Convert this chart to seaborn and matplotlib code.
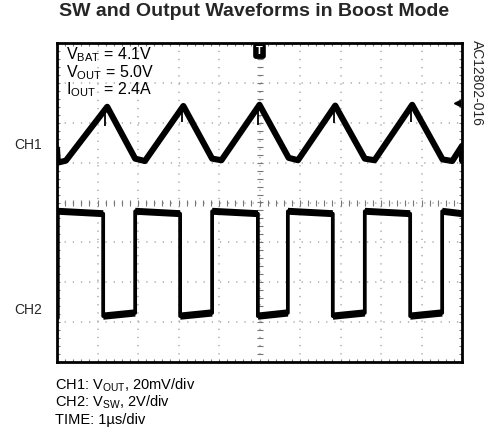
import numpy as np
import pandas as pd
import matplotlib
matplotlib.use("Agg")
import matplotlib.pyplot as plt
from matplotlib.ticker import MultipleLocator
import seaborn as sns

# ---- waveform data (time in µs = divisions, amplitude in divisions) ----
# CH1: output voltage ripple, turning points of the trace
ch1_t = [0.00, 0.02, 0.22, 1.24, 1.93, 2.17, 3.12, 3.83, 4.06, 5.00,
         5.72, 5.95, 6.87, 7.60, 7.84, 8.77, 9.52, 9.76, 10.00, 10.00]
ch1_v = [1.35, 1.00, 1.05, 2.40, 1.10, 1.04, 2.42, 1.10, 1.06, 2.45,
         1.12, 1.06, 2.43, 1.10, 1.06, 2.45, 1.08, 1.04, 1.42, 1.05]

# CH2: switch node, edge times and levels
sw_rise = [0.02, 1.93, 3.83, 5.70, 7.60, 9.51]
sw_fall = [1.14, 3.04, 4.96, 6.81, 8.72]
sw_high = [-0.22, -0.28]    # level just after rising edge, before falling edge
sw_low = [-2.85, -2.77]     # level just after falling edge, before rising edge
sw_start = -2.90

# switching glitches on CH1 at each SW falling edge
glitch_t = [1.19, 3.09, 4.97, 6.85, 8.74]
glitch_depth = [0.42, 0.35, 0.45, 0.40, 0.38]

labels_in = [r"V$_\mathrm{BAT}$ = 4.1V", r"V$_\mathrm{OUT}$ = 5.0V", r"I$_\mathrm{OUT}$  = 2.4A"]
labels_out = [r"CH1: V$_\mathrm{OUT}$, 20mV/div", r"CH2: V$_\mathrm{SW}$, 2V/div", "TIME: 1µs/div"]
title = "SW and Output Waveforms in Boost Mode"
fig_id = "AC12802-016"

# ---- build switch-node polyline ----
sw_t, sw_v = [0.0], [sw_start]
for i, tr in enumerate(sw_rise):
    prev_low = sw_start if i == 0 else sw_low[1]
    sw_t += [tr, tr]
    sw_v += [prev_low, sw_high[0]]
    if i < len(sw_fall):
        tf = sw_fall[i]
        sw_t += [tf, tf]
        sw_v += [sw_high[1], sw_low[0]]
sw_t.append(10.0)
sw_v.append(sw_high[1])

ch1 = pd.DataFrame({"t": ch1_t, "v": ch1_v})
ch2 = pd.DataFrame({"t": sw_t, "v": sw_v})

# ---- figure ----
sns.set_style("white")
FONT = ["Liberation Sans", "DejaVu Sans"]
plt.rcParams["font.family"] = FONT
plt.rcParams["mathtext.fontset"] = "custom"
plt.rcParams["mathtext.rm"] = "Liberation Sans"
plt.rcParams["mathtext.it"] = "Liberation Sans"

W, H = 484, 428
fig = plt.figure(figsize=(W / 100, H / 100), dpi=100)
fig.patch.set_facecolor("white")
ax = fig.add_axes([57 / W, 1 - 362 / H, 405 / W, 319 / H])
ax.set_xlim(0, 10)
ax.set_ylim(-4, 4)

# graticule: dotted division lines
grid_col = "#9a9a9a"
dots = dict(color=grid_col, lw=1.1, ls=(0, (0.05, 5.3)),
            dash_capstyle="round", zorder=1)
for x in range(1, 10):
    ax.axvline(x, **dots)
for y in range(-3, 4):
    ax.axhline(y, **dots)
# centre cross with minor ticks
minor_x = np.arange(0.2, 10.0, 0.2)
minor_y = np.arange(-3.8, 4.0, 0.2)
ax.plot(minor_x, np.zeros_like(minor_x), ls="none", marker="|", ms=4.5,
        mew=0.8, color="#777777", zorder=1)
ax.plot(np.full_like(minor_y, 5.0), minor_y, ls="none", marker="_", ms=4.5,
        mew=0.8, color="#777777", zorder=1)

# border ticks
ax.xaxis.set_major_locator(MultipleLocator(1))
ax.xaxis.set_minor_locator(MultipleLocator(0.2))
ax.yaxis.set_major_locator(MultipleLocator(1))
ax.yaxis.set_minor_locator(MultipleLocator(0.2))
ax.tick_params(which="both", direction="in", top=True, right=True,
               bottom=True, left=True, length=2.5, width=0.8, color="#777777",
               labelbottom=False, labelleft=False)
for s in ax.spines.values():
    s.set_color("black")
    s.set_linewidth(2.0)
    s.set_zorder(5)

# traces
sns.lineplot(data=ch1, x="t", y="v", sort=False, estimator=None, ax=ax,
             color="black", lw=4.4, zorder=3, legend=False)
sns.lineplot(data=ch2, x="t", y="v", sort=False, estimator=None, ax=ax,
             color="black", lw=2.7, zorder=3, legend=False)
# thicker flat portions of the switch node
for i, tr in enumerate(sw_rise):
    end = sw_fall[i] if i < len(sw_fall) else 10.0
    ax.plot([tr, end], [sw_high[0], sw_high[1]], color="black", lw=5.0,
            solid_capstyle="butt", zorder=3)
for i, tf in enumerate(sw_fall):
    ax.plot([tf, sw_rise[i + 1]], [sw_low[0], sw_low[1]], color="black",
            lw=5.2, solid_capstyle="butt", zorder=3)
# glitches
g_base = np.interp(glitch_t, ch1_t[2:-1], ch1_v[2:-1])
ax.vlines(glitch_t, g_base - np.array(glitch_depth), g_base, color="black",
          lw=1.3, zorder=3)

ax.set_xlabel("")
ax.set_ylabel("")

# trigger marker and CH1 level marker
ax.text(5.0, 3.80, "T", ha="center", va="center", color="white", fontsize=8,
        fontweight="bold", zorder=6, family=FONT,
        bbox=dict(boxstyle="round,pad=0.2", fc="black", ec="black"))
ax.plot(9.88, 2.5, marker="<", ms=4, color="black", zorder=6)

# in-graph condition labels
for i, s in enumerate(labels_in):
    fig.text(66 / W, 1 - (55 + 17.5 * i) / H, s, fontsize=11.5, ha="left",
             va="center", color="black", family=FONT)

# channel labels
fig.text(28 / W, 1 - 145 / H, "CH1", fontsize=10, ha="center", va="center",
         family=FONT)
fig.text(28 / W, 1 - 310 / H, "CH2", fontsize=10, ha="center", va="center",
         family=FONT)

# footnotes
for i, s in enumerate(labels_out):
    fig.text(55 / W, 1 - (385 + 17.5 * i) / H, s, fontsize=10.5, ha="left",
             va="center", color="black", family=FONT)

fig.text(254 / W, 1 - 11 / H, title, fontsize=14, fontweight="bold",
         ha="center", va="center", family=FONT)
fig.text(477 / W, 1 - 40 / H, fig_id, fontsize=10, rotation=270,
         ha="center", va="top", family=FONT)

fig.savefig("out.png", dpi=100, facecolor="white")
